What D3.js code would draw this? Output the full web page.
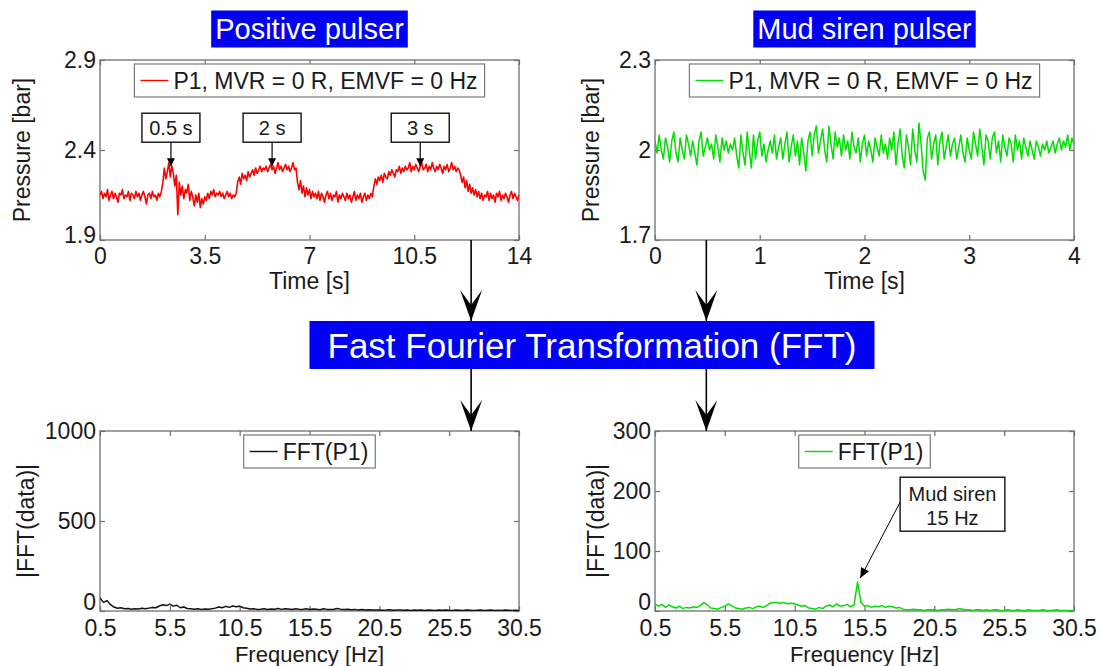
<!DOCTYPE html>
<html><head><meta charset="utf-8">
<script src="https://cdn.jsdelivr.net/npm/d3@7"></script>
<style>
body{margin:0;background:#fff;}
svg{display:block;font-family:"Liberation Sans",Arial,Helvetica,sans-serif;}
</style></head><body>
<svg id="c" width="1103" height="666"></svg>
<script>
// ---------- data ----------
const posStep = 0.05; // s between samples
const posPressure = [
2.15,2.17,2.13,2.16,2.14,2.18,2.12,2.15,2.17,2.13,2.16,2.14,2.11,2.16,2.15,2.18,2.13,2.15,2.14,2.17,2.12,2.16,2.15,2.13,2.17,2.14,2.16,2.12,2.15,2.17,2.14,2.10,2.15,2.16,2.13,2.17,2.14,2.15,2.12,2.16,2.14,2.17,
2.22,2.30,2.24,2.28,2.33,2.25,2.31,2.27,2.20,2.26,2.04,
2.22,2.15,2.20,2.13,2.18,2.16,2.21,2.12,2.17,2.14,2.09,2.15,2.11,2.16,2.08,2.13,2.10,2.14,
2.12,2.16,2.13,2.17,2.15,2.18,2.14,2.16,2.15,2.17,2.14,2.16,2.13,2.15,2.17,2.14,2.16,2.13,2.15,2.14,2.16,
2.22,2.25,2.21,2.27,2.24,2.26,2.23,2.28,2.25,2.27,2.29,2.26,2.30,2.27,2.29,2.31,2.28,2.30,2.29,
2.31,2.28,2.30,2.32,2.29,2.31,2.27,2.30,2.33,2.29,2.31,2.28,2.30,2.32,2.29,2.31,2.28,2.30,2.33,2.29,2.30,
2.22,2.18,2.23,2.16,2.20,2.14,2.19,2.15,2.18,2.13,2.17,2.14,2.16,
2.13,2.17,2.12,2.16,2.14,2.11,2.15,2.17,2.13,2.16,2.12,2.15,2.14,2.17,2.11,2.15,2.13,2.16,2.14,2.12,2.16,2.13,2.15,2.11,2.14,2.17,2.12,2.15,2.13,2.16,2.11,2.14,2.16,2.12,2.15,2.13,2.16,2.14,
2.20,2.24,2.21,2.25,2.23,2.26,2.22,2.27,2.25,2.24,2.28,2.26,2.29,2.27,2.25,2.29,2.28,2.31,2.27,2.30,2.28,2.31,2.29,
2.30,2.33,2.28,2.31,2.29,2.32,2.30,2.28,2.31,2.33,2.29,2.30,2.32,2.28,2.31,2.29,2.33,2.30,2.28,2.31,2.29,2.32,2.30,2.27,2.31,2.29,2.32,2.28,2.30,2.33,2.29,2.31,2.28,2.30,2.29,
2.26,2.22,2.25,2.19,2.23,2.17,2.21,2.16,2.19,2.15,2.18,2.14,
2.17,2.13,2.16,2.12,2.15,2.14,2.17,2.12,2.16,2.13,2.15,2.11,2.16,2.14,2.17,2.12,2.15,2.13,2.16,2.14,2.11,2.15,2.17,2.13,2.16,2.14,2.12,2.15
];
const sirenStep = 0.02; // s between samples
const sirenPressure = [
2.03,1.99,2.05,2.00,1.97,2.04,2.01,1.96,2.03,2.06,
1.99,1.96,2.04,2.00,1.97,2.05,2.02,1.98,2.03,1.99,
1.95,2.03,2.06,1.98,2.01,2.04,2.00,2.02,1.97,2.05,
2.01,1.96,2.04,2.00,2.03,1.99,2.02,2.00,2.04,1.98,
1.94,2.05,1.99,1.95,2.06,2.00,1.94,2.05,1.97,2.03,
2.06,1.98,2.02,1.96,2.00,2.03,1.99,2.05,1.97,2.01,
2.04,1.97,2.02,2.06,1.96,2.01,2.05,1.98,2.03,1.95,
2.04,1.99,1.93,2.03,2.06,1.98,2.05,2.08,1.99,2.03,
2.07,2.00,1.96,2.08,2.02,1.97,2.06,2.01,2.04,1.98,
2.05,2.00,2.03,1.97,2.06,2.01,1.99,2.04,1.96,2.02,
2.05,1.98,2.03,2.00,1.96,2.04,2.01,1.98,2.05,1.99,
2.02,1.97,2.04,2.00,2.06,1.95,2.02,2.07,1.98,1.94,
2.05,2.01,1.95,2.07,2.00,1.96,2.09,2.02,1.93,1.90,
2.04,2.06,1.97,2.02,2.05,1.95,2.03,2.06,1.97,2.01,
2.05,1.98,2.02,2.04,1.97,2.01,2.05,1.99,1.96,2.04,
2.00,1.97,2.06,2.02,1.98,2.07,2.01,1.95,2.05,2.03,
1.97,2.04,2.06,1.99,2.03,1.96,2.05,2.01,1.98,2.04,
2.02,1.96,2.05,2.00,2.03,1.97,2.04,2.01,1.98,2.03,
2.00,1.97,2.03,2.01,1.98,2.02,2.00,2.03,1.99,2.01,
2.03,1.99,2.02,2.04,2.00,2.03,2.01,2.05,2.00,2.04,
2.02
];
const fftStart = 0.5, fftStep = 0.25; // Hz
const fftPositive = [
72,48,58,35,22,15,18,12,14,10,
13,11,15,12,16,20,18,28,35,30,
38,27,32,18,22,14,12,10,13,9,
11,10,12,16,22,18,26,20,28,24,
27,18,15,11,13,9,10,12,8,11,
10,14,9,12,11,8,13,10,9,12,
8,11,10,7,12,9,8,10,14,9,
8,10,7,9,6,8,5,7,6,5,
6,4,5,7,4,5,6,4,5,3,
5,4,6,3,5,4,3,5,4,6,
4,3,5,4,3,5,4,3,4,5,
3,4,5,3,4,3,5,4,3,4,
3
];
const fftSiren = [
12,8,11,6,10,7,5,8,4,6,
5,7,6,9,14,10,5,4,3,6,
8,12,9,5,4,3,5,6,4,7,
8,6,9,13,14,14,13,14,12,13,
12,10,8,9,5,4,3,6,4,8,
10,7,12,8,9,11,7,10,48,14,
8,9,6,8,7,9,6,8,7,5,
6,3,2,2,3,2,2,1,2,2,
2,1,2,2,3,2,2,4,3,2,
2,1,2,2,1,2,1,2,2,1,
1,2,1,1,2,1,1,2,1,1,
1,2,1,1,1,2,1,1,1,1,
1
];
const timeTicksPos = [0, 3.5, 7, 10.5, 14];
const pressTicksPos = [1.9, 2.4, 2.9];
const timeTicksSiren = [0, 1, 2, 3, 4];
const pressTicksSiren = [1.7, 2, 2.3];
const freqTicks = [0.5, 5.5, 10.5, 15.5, 20.5, 25.5, 30.5];
const fftTicksPos = [0, 500, 1000];
const fftTicksSiren = [0, 100, 200, 300];
const pulseLabels = ["0.5 s", "2 s", "3 s"];
const pulseTimes = [2.37, 5.75, 10.7];
const pulsePressure = [2.31, 2.31, 2.31];
const legendPressure = "P1, MVR = 0 R, EMVF = 0 Hz";
const legendFFT = "FFT(P1)";

// ---------- drawing ----------
const svg = d3.select("#c");
const FRAME = "#6f6f6f";
const FS = 23;

function panel(o) {
  const x = d3.scaleLinear().domain(o.xd).range([o.left, o.right]);
  const y = d3.scaleLinear().domain(o.yd).range([o.bottom, o.top]);
  const g = svg.append("g");
  g.append("rect").attr("x", o.left).attr("y", o.top)
    .attr("width", o.right - o.left).attr("height", o.bottom - o.top)
    .attr("fill", "#fff").attr("stroke", FRAME).attr("stroke-width", 1.3);
  const fmt = d => String(d);
  const styleAx = sel => {
    sel.select(".domain").remove();
    sel.selectAll(".tick line").attr("stroke", FRAME).attr("stroke-width", 1.2);
    sel.selectAll("text").attr("fill", "#1a1a1a").style("font-size", FS + "px")
      .style("font-family", '"Liberation Sans",Arial,sans-serif');
  };
  g.append("g").attr("transform", `translate(0,${o.bottom})`)
    .call(d3.axisBottom(x).tickValues(o.xt).tickFormat(fmt).tickSize(-5).tickPadding(o.xpad || 8)).call(styleAx);
  g.append("g").attr("transform", `translate(0,${o.top})`)
    .call(d3.axisTop(x).tickValues(o.xt).tickFormat("").tickSize(-5)).call(styleAx);
  const yax = g.append("g").attr("transform", `translate(${o.left},0)`)
    .call(d3.axisLeft(y).tickValues(o.yt).tickFormat(fmt).tickSize(-5).tickPadding(4)).call(styleAx);
  // lowest y label sits just above the x labels (MATLAB corner)
  yax.selectAll(".tick text").filter(d => d === o.yd[0]).attr("dy", o.y0dy || "0.1em");
  g.append("g").attr("transform", `translate(${o.right},0)`)
    .call(d3.axisRight(y).tickValues(o.yt).tickFormat("").tickSize(-5)).call(styleAx);
  // axis labels
  g.append("text").attr("x", (o.left + o.right) / 2).attr("y", o.bottom + (o.xlOff || 49))
    .attr("text-anchor", "middle").attr("fill", "#1a1a1a").style("font-size", (o.xlFS || FS) + "px").text(o.xlabel);
  g.append("text").attr("transform", `translate(${o.ylabelX},${(o.top + o.bottom) / 2}) rotate(-90)`)
    .attr("text-anchor", "middle").attr("dominant-baseline", "central")
    .attr("fill", "#1a1a1a").style("font-size", FS + "px").text(o.ylabel);
  // data line
  const clipId = "clip" + Math.round(o.left) + "_" + Math.round(o.top);
  svg.append("clipPath").attr("id", clipId).append("rect")
    .attr("x", o.left).attr("y", o.top).attr("width", o.right - o.left).attr("height", o.bottom - o.top);
  const line = d3.line().x((d, i) => x(o.x0 + i * o.step)).y(d => y(d));
  g.append("path").datum(o.data).attr("clip-path", `url(#${clipId})`)
    .attr("d", line).attr("fill", "none").attr("stroke", o.color)
    .attr("stroke-width", o.lw || 1.4).attr("stroke-linejoin", "round");
  // legend (top centre)
  const lg = g.append("g");
  const lt = lg.append("text").attr("fill", "#1a1a1a").style("font-size", FS + "px").text(o.legend);
  const tw = lt.node().getComputedTextLength();
  const bw = 6 + 28 + 5 + tw + 7, bh = 33;
  const bx = (o.left + o.right) / 2 - bw / 2, by = o.top + 4;
  lg.insert("rect", "text").attr("x", bx).attr("y", by).attr("width", bw).attr("height", bh)
    .attr("fill", "#fff").attr("stroke", "#7a7a7a").attr("stroke-width", 1.2);
  lg.append("line").attr("x1", bx + 6).attr("x2", bx + 34).attr("y1", by + bh / 2).attr("y2", by + bh / 2)
    .attr("stroke", o.color).attr("stroke-width", 1.4);
  lt.attr("x", bx + 39).attr("y", by + bh / 2 + 8);
  return { x, y, g };
}

function head(g, x1, y1, x2, y2, len, hw, notch) {
  const a = Math.atan2(y2 - y1, x2 - x1);
  const ux = Math.cos(a), uy = Math.sin(a), px = -uy, py = ux;
  const bx = x2 - ux * len, by = y2 - uy * len;
  const nx = x2 - ux * (len - notch), ny = y2 - uy * (len - notch);
  g.append("path").attr("d",
    `M${x2},${y2}L${bx + px * hw},${by + py * hw}L${nx},${ny}L${bx - px * hw},${by - py * hw}Z`)
    .attr("fill", "#000");
}
function arrow(g, x1, y1, x2, y2, lw, len, hw, notch) {
  g.append("line").attr("x1", x1).attr("y1", y1).attr("x2", x2).attr("y2", y2)
    .attr("stroke", "#000").attr("stroke-width", lw);
  head(g, x1, y1, x2, y2, len, hw, notch);
}

const L = { left: 100, right: 519 }, R = { left: 655, right: 1074 };
const T = { top: 60, bottom: 240 }, B = { top: 431, bottom: 611 };

const tl = panel({ ...L, ...T, xd: [0, 14], yd: [1.9, 2.9], xt: timeTicksPos, yt: pressTicksPos,
  xlabel: "Time [s]", ylabel: "Pressure [bar]", ylabelX: 22, data: posPressure, x0: 0, step: posStep,
  color: "#ff0000", lw: 1.6, legend: legendPressure });
const tr = panel({ ...R, ...T, xd: [0, 4], yd: [1.7, 2.3], xt: timeTicksSiren, yt: pressTicksSiren,
  xlabel: "Time [s]", ylabel: "Pressure [bar]", ylabelX: 591, data: sirenPressure, x0: 0, step: sirenStep,
  color: "#00e000", lw: 1.5, legend: legendPressure });
const bottomOpts = { xd: [0.5, 30.5], xt: freqTicks, xpad: 9, y0dy: "-0.06em", xlOff: 51, xlFS: 22,
  xlabel: "Frequency [Hz]", ylabel: "|FFT(data)|", x0: fftStart, step: fftStep, legend: legendFFT };
const bl = panel({ ...L, ...B, ...bottomOpts, yd: [0, 1000], yt: fftTicksPos, ylabelX: 26,
  data: fftPositive, color: "#111", lw: 1.5 });
const br = panel({ ...R, ...B, ...bottomOpts, yd: [0, 300], yt: fftTicksSiren, ylabelX: 596,
  data: fftSiren, color: "#00e000", lw: 1.5 });

// pulse annotations (top-left)
const ann = svg.append("g");
pulseLabels.forEach((lab, i) => {
  const ax = tl.x(pulseTimes[i]), ay = tl.y(pulsePressure[i]);
  const bw = 58, bh = 29, bb = ay - 24;
  ann.append("rect").attr("x", ax - bw / 2).attr("y", bb - bh).attr("width", bw).attr("height", bh)
    .attr("fill", "#fff").attr("stroke", "#111").attr("stroke-width", 1.4);
  ann.append("text").attr("x", ax).attr("y", bb - bh / 2 + 7).attr("text-anchor", "middle")
    .attr("fill", "#1a1a1a").style("font-size", "20px").text(lab);
  arrow(ann, ax, bb, ax, ay, 1.2, 8, 4, 0);
});

// mud siren annotation (bottom-right)
{
  const x0 = br.x(18.05), x1 = br.x(25.55), y0 = br.y(223), y1 = br.y(133);
  ann.append("rect").attr("x", x0).attr("y", y0).attr("width", x1 - x0).attr("height", y1 - y0)
    .attr("fill", "#fff").attr("stroke", "#111").attr("stroke-width", 1.4);
  ann.append("text").attr("x", (x0 + x1) / 2).attr("y", y0 + 24).attr("text-anchor", "middle")
    .attr("fill", "#1a1a1a").style("font-size", "20px").text("Mud siren");
  ann.append("text").attr("x", (x0 + x1) / 2).attr("y", y0 + 48).attr("text-anchor", "middle")
    .attr("fill", "#1a1a1a").style("font-size", "20px").text("15 Hz");
  arrow(ann, x0, (y0 + y1) / 2 - 2, br.x(15.2), br.y(55), 1, 10, 4.5, 0);
}

// titles
function blueBox(cx, cy, text, fs, padX, h) {
  const g = svg.append("g");
  const t = g.append("text").attr("x", cx).attr("y", cy).attr("text-anchor", "middle")
    .attr("dominant-baseline", "central").attr("fill", "#fff").style("font-size", fs + "px").text(text);
  const w = t.node().getComputedTextLength() + 2 * padX;
  g.insert("rect", "text").attr("x", cx - w / 2).attr("y", cy - h / 2).attr("width", w).attr("height", h)
    .attr("fill", "#0000f2");
  return { x0: cx - w / 2, x1: cx + w / 2, y0: cy - h / 2, y1: cy + h / 2 };
}
blueBox((L.left + L.right) / 2, 29, "Positive pulser", 29, 4, 37);
blueBox((R.left + R.right) / 2, 29, "Mud siren pulser", 29, 4, 37);
const fftBox = blueBox(592, 345, "Fast Fourier Transformation (FFT)", 35, 18, 48);

// flow arrows
const ax1 = tl.x(12.4), ax2 = tr.x(0.49);
[ax1, ax2].forEach(ax => {
  arrow(svg, ax, T.bottom, ax, fftBox.y0, 1.6, 31, 11, 15);
  arrow(svg, ax, fftBox.y1, ax, B.top, 1.6, 31, 11, 15);
});
</script>
</body></html>
